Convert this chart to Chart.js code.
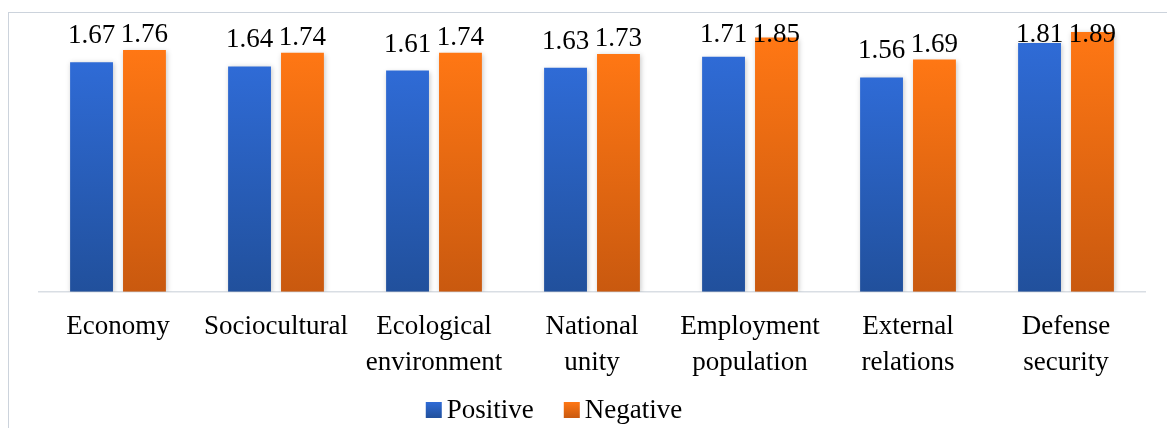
<!DOCTYPE html>
<html>
<head>
<meta charset="utf-8">
<script src="https://cdn.jsdelivr.net/npm/chart.js@4/dist/chart.umd.min.js"></script>
<style>
  html, body { margin: 0; padding: 0; background: #fff; overflow: hidden; }
  #wrap { position: relative; width: 1167px; height: 428px; }
  #frame { position: absolute; left: 8px; top: 12px; width: 1200px; height: 500px;
           border: 1px solid #ccd3dc; }
  #chart { position: absolute; left: 0; top: 0; }
</style>
</head>
<body>
<div id="wrap">
  <div id="frame"></div>
  <canvas id="chart" width="1167" height="428"></canvas>
</div>
<script>
// Data
const categories = [
    ['Economy'],
    ['Sociocultural'],
    ['Ecological', 'environment'],
    ['National', 'unity'],
    ['Employment', 'population'],
    ['External', 'relations'],
    ['Defense', 'security']
];
const positiveValues = [1.67, 1.64, 1.61, 1.63, 1.71, 1.56, 1.81];
const negativeValues = [1.76, 1.74, 1.74, 1.73, 1.85, 1.69, 1.89];
const seriesNames = ['Positive', 'Negative'];

const FONT = '"Liberation Serif", "Times New Roman", serif';
const blueStops = ['#2f6bd6', '#2a5dba', '#21509c'];
const orangeStops = ['#ff7714', '#e8670f', '#c9590f'];

// vertical gradient per bar: light at top, dark at the base
function barFill(stops) {
    return (ctx) => {
        if (ctx.type !== 'data') return stops[1];
        const chart = ctx.chart;
        const y = chart.scales.y;
        if (!chart.chartArea || !y) return stops[1];
        const yTop = y.getPixelForValue(ctx.raw);
        const yBase = y.getPixelForValue(0);
        const g = chart.ctx.createLinearGradient(0, yTop, 0, yBase);
        g.addColorStop(0, stops[0]);
        g.addColorStop(1, stops[2]);
        return g;
    };
}

// soft shadow under the bars
const barShadow = {
    id: 'barShadow',
    beforeDatasetsDraw(chart) {
        const c = chart.ctx;
        c.save();
        c.shadowColor = 'rgba(0,0,0,0.22)';
        c.shadowBlur = 5;
        c.shadowOffsetX = 1;
        c.shadowOffsetY = 1;
    },
    afterDatasetsDraw(chart) {
        chart.ctx.restore();
    }
};

// value labels above the bars
const valueLabels = {
    id: 'valueLabels',
    afterDatasetsDraw(chart, args, opts) {
        const c = chart.ctx;
        c.save();
        c.font = opts.font;
        c.fillStyle = opts.color;
        c.textAlign = 'center';
        c.textBaseline = 'alphabetic';
        chart.data.datasets.forEach((ds, i) => {
            const meta = chart.getDatasetMeta(i);
            meta.data.forEach((bar, j) => {
                const y = Math.max(opts.minBaseline, bar.y - opts.offsets[i]);
                c.fillText(ds.data[j].toFixed(2), bar.x, y);
            });
        });
        c.restore();
    }
};

// legend drawn by hand so box / text spacing matches the original
const boxLegend = {
    id: 'boxLegend',
    afterDraw(chart, args, opts) {
        const c = chart.ctx;
        c.save();
        c.font = opts.font;
        c.textBaseline = 'alphabetic';
        c.textAlign = 'left';
        const items = chart.data.datasets.map((ds, i) => ({
            text: ds.label,
            stops: opts.stops[i],
            w: opts.box + opts.gap + c.measureText(ds.label).width
        }));
        const total = items.reduce((s, it) => s + it.w, 0) + opts.itemGap * (items.length - 1);
        let x = opts.centerX - total / 2;
        items.forEach(it => {
            const top = opts.y - opts.box / 2;
            const g = c.createLinearGradient(0, top, 0, top + opts.box);
            g.addColorStop(0, it.stops[0]);
            g.addColorStop(1, it.stops[2]);
            c.fillStyle = g;
            c.fillRect(x, top, opts.box, opts.box);
            c.fillStyle = opts.color;
            c.fillText(it.text, x + opts.box + opts.gap, opts.y + 8);
            x += it.w + opts.itemGap;
        });
        c.restore();
    }
};

new Chart(document.getElementById('chart'), {
    type: 'bar',
    data: {
        labels: categories,
        datasets: [
            {
                label: seriesNames[0],
                data: positiveValues,
                backgroundColor: barFill(blueStops),
                categoryPercentage: 0.67,
                barPercentage: 0.81
            },
            {
                label: seriesNames[1],
                data: negativeValues,
                backgroundColor: barFill(orangeStops),
                categoryPercentage: 0.67,
                barPercentage: 0.81
            }
        ]
    },
    options: {
        responsive: false,
        animation: false,
        layout: { padding: { left: 39, right: 22, top: 17, bottom: 30 } },
        scales: {
            x: {
                grid: { display: false, drawTicks: false },
                border: { display: true, color: '#d9dee4', width: 1.5 },
                ticks: {
                    color: '#000',
                    padding: 18,
                    maxRotation: 0,
                    autoSkip: false,
                    font: { family: FONT, size: 27, lineHeight: 1.3 }
                }
            },
            y: {
                display: false,
                min: 0,
                max: 2
            }
        },
        plugins: {
            legend: { display: false },
            tooltip: { enabled: false },
            valueLabels: {
                font: '27px ' + FONT,
                color: '#000',
                offsets: [19, 8],
                minBaseline: 42
            },
            boxLegend: {
                font: '27px ' + FONT,
                color: '#000',
                stops: [blueStops, orangeStops],
                box: 16,
                gap: 5,
                itemGap: 30,
                centerX: 554,
                y: 410
            }
        }
    },
    plugins: [barShadow, valueLabels, boxLegend]
});
</script>
</body>
</html>
